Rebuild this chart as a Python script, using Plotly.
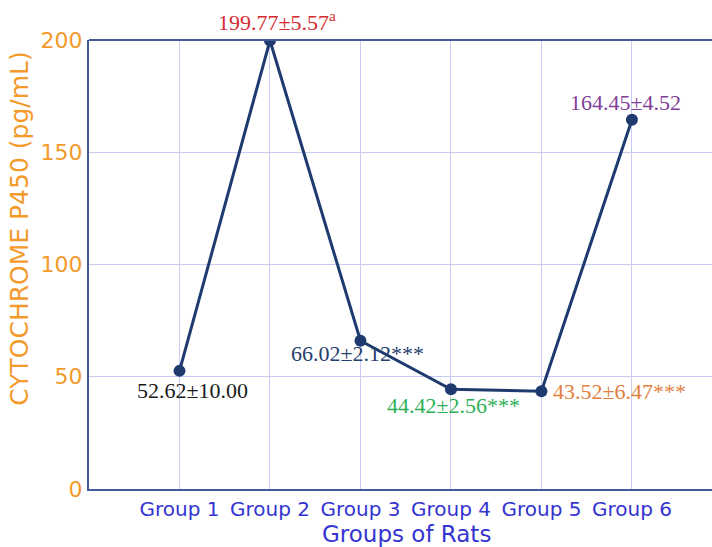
import plotly.graph_objects as go

# Cytochrome P450 levels per rat group (mean ± SD)
groups = ["Group 1", "Group 2", "Group 3", "Group 4", "Group 5", "Group 6"]
means = [52.62, 199.77, 66.02, 44.42, 43.52, 164.45]
sds = ["10.00", "5.57", "2.12", "2.56", "6.47", "4.52"]
marks = ["", "<sup>a</sup>", "***", "***", "***", ""]

label_colors = ["#1a1a1a", "#d42a30", "#25406f", "#2bb055", "#e3803e", "#7f3f98"]
# (xshift, yshift, xanchor) for each value label
label_place = [(13, -20, "center"), (7, 20, "center"), (-3, -13, "center"),
               (3, -16, "center"), (10, 0, "left"), (-6, 17, "center")]

line_color = "#1e3a6e"
axis_color = "#3f5b9c"
grid_color = "#cacaf6"
orange = "#f39a2b"
blue = "#3434d0"

x_idx = list(range(len(groups)))

fig = go.Figure()
fig.add_trace(go.Scatter(
    x=x_idx, y=means, mode="lines+markers",
    line=dict(color=line_color, width=3),
    marker=dict(color=line_color, size=12),
    showlegend=False, hoverinfo="skip",
))

for i, (m, sd, mk) in enumerate(zip(means, sds, marks)):
    xs, ys, xa = label_place[i]
    fig.add_annotation(
        x=x_idx[i], y=m, xref="x", yref="y",
        text=f"{m:.2f}±{sd}{mk}", showarrow=False,
        xshift=xs, yshift=ys, xanchor=xa, yanchor="middle",
        font=dict(family="Liberation Serif", size=22, color=label_colors[i]),
    )

# axis titles placed as free text
fig.add_annotation(
    text="Groups of Rats", xref="paper", yref="paper", x=0.51, y=-0.1,
    xanchor="center", yanchor="middle", showarrow=False,
    font=dict(size=23, color=blue),
)
fig.add_annotation(
    text="CYTOCHROME P450 (pg/mL)", xref="paper", yref="paper", x=-0.112, y=0.58,
    xanchor="center", yanchor="middle", textangle=-90, showarrow=False,
    font=dict(size=25, color=orange),
)

# top frame line of the plot area
fig.add_shape(type="line", xref="paper", yref="paper", x0=0, x1=1, y0=1, y1=1,
              line=dict(color=axis_color, width=2))

fig.update_layout(
    width=712, height=547,
    margin=dict(l=89, r=0, t=40, b=58),
    paper_bgcolor="white", plot_bgcolor="white",
    font=dict(family="DejaVu Sans"),
    xaxis=dict(
        range=[-1, 5.885], tickmode="array", tickvals=x_idx, ticktext=groups,
        showgrid=True, gridcolor=grid_color, gridwidth=1,
        showline=True, linecolor=axis_color, linewidth=2,
        zeroline=False, ticks="", ticklabelstandoff=1,
        tickfont=dict(size=20, color=blue),
        automargin=False,
    ),
    yaxis=dict(
        range=[0, 200], tickvals=[0, 50, 100, 150, 200],
        showgrid=True, gridcolor=grid_color, gridwidth=1,
        showline=True, linecolor=axis_color, linewidth=2,
        zeroline=False, ticks="",
        tickfont=dict(size=22, color=orange),
        automargin=False,
    ),
)

fig.write_html("out.html")
